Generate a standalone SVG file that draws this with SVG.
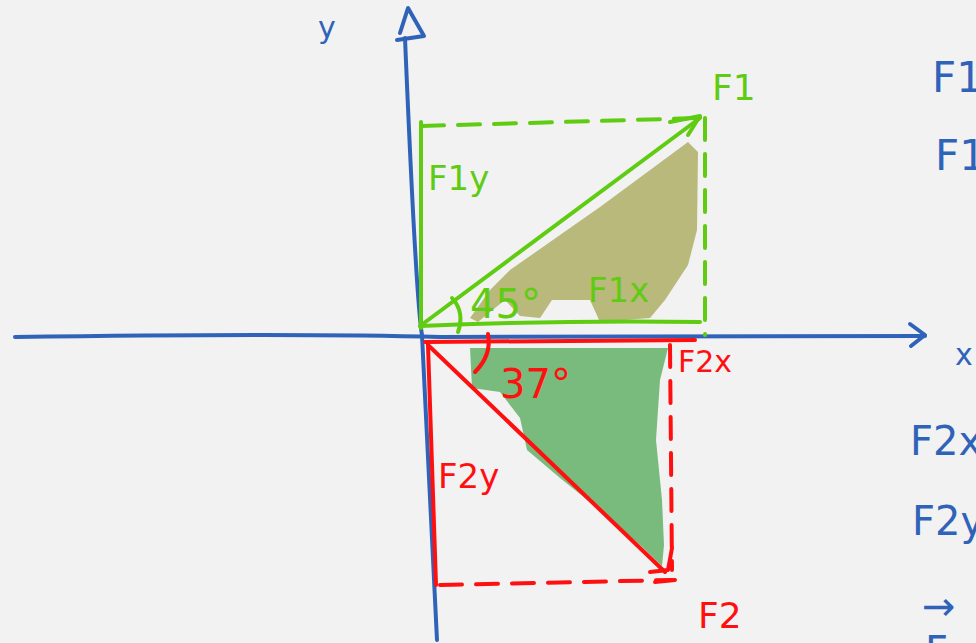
<svg xmlns="http://www.w3.org/2000/svg" width="976" height="643" viewBox="0 0 976 643">
<style>
.b{stroke:#2f63b9;fill:none;stroke-width:4;stroke-linecap:round;stroke-linejoin:round}
.g{stroke:#5fcc12;fill:none;stroke-width:4;stroke-linecap:round;stroke-linejoin:round}
.r{stroke:#ff1010;fill:none;stroke-width:4;stroke-linecap:round;stroke-linejoin:round}
.dash{stroke-dasharray:22 14}
.t{font-family:"DejaVu Sans",sans-serif;font-weight:normal}
.tb{fill:#2f63b9}.tg{fill:#5fcc12}.tr{fill:#ff1010}
</style>
<rect width="976" height="643" fill="#f2f2f2"/>
<g id="fills">
<polygon fill="#b9b97b" points="510,270 600,207 688,142 698,152 697,230 688,265 665,300 650,318 600,322 590,300 552,300 540,318 520,316 505,300 490,312 478,322 470,318 490,290"/>
<polygon fill="#79bb7d" points="470,348 668,348 660,380 656,440 662,500 664,545 662,566 640,545 600,510 560,478 527,450 520,418 500,392 472,388"/>
</g>
<g id="connectors">
<path class="b" d="M15,337 Q300,333 440,337 L925,336"/>
<path class="b" d="M910,324 L925,335 L911,346"/>
<path class="b" d="M405,38 Q416,300 422,335 Q430,500 437,640"/>
<path class="b" d="M397,40 L424,36 L408,8 L400,33"/>
<path class="g dash" d="M422,126 L700,118"/>
<path class="g dash" d="M705,118 L705,335"/>
<path class="g" d="M421,122 L421,328"/>
<path class="g" d="M420,326 Q560,320 700,322"/>
<path class="g" d="M420,326 L700,118"/>
<path class="g" d="M670,122 L700,116 L688,135"/>
<path class="g" d="M452,298 Q465,312 458,332"/>
<path class="r" d="M425,342 L695,340"/>
<path class="r" d="M428,345 Q432,460 436,585"/>
<path class="r" d="M428,345 L665,572"/>
<path class="r dash" d="M440,585 L672,580"/>
<path class="r dash" d="M670,345 L672,570"/>
<path class="r" d="M650,572 L668,570 L672,548 M655,582 L675,580"/>
<path class="r" d="M488,334 Q492,355 475,372"/>
</g>
<g id="labels">
<text class="t tb" x="318" y="38" font-size="30">y</text>
<text class="t tb" x="955" y="365" font-size="30">x</text>
<text class="t tg" x="428" y="190" font-size="34">F1y</text>
<text class="t tg" x="470" y="318" font-size="40">45°</text>
<text class="t tg" x="588" y="302" font-size="34">F1x</text>
<text class="t tg" x="712" y="100" font-size="36">F1</text>
<text class="t tr" x="500" y="398" font-size="40">37°</text>
<text class="t tr" x="678" y="372" font-size="30">F2x</text>
<text class="t tr" x="438" y="488" font-size="34">F2y</text>
<text class="t tr" x="698" y="628" font-size="36">F2</text>
<text class="t tb" x="932" y="92" font-size="42">F1</text>
<text class="t tb" x="935" y="170" font-size="42">F1</text>
<text class="t tb" x="910" y="455" font-size="40">F2x</text>
<text class="t tb" x="912" y="535" font-size="40">F2y</text>
<text class="t tb" x="922" y="620" font-size="40">→</text>
<text class="t tb" x="925" y="665" font-size="40">F</text>
</g>
</svg>
